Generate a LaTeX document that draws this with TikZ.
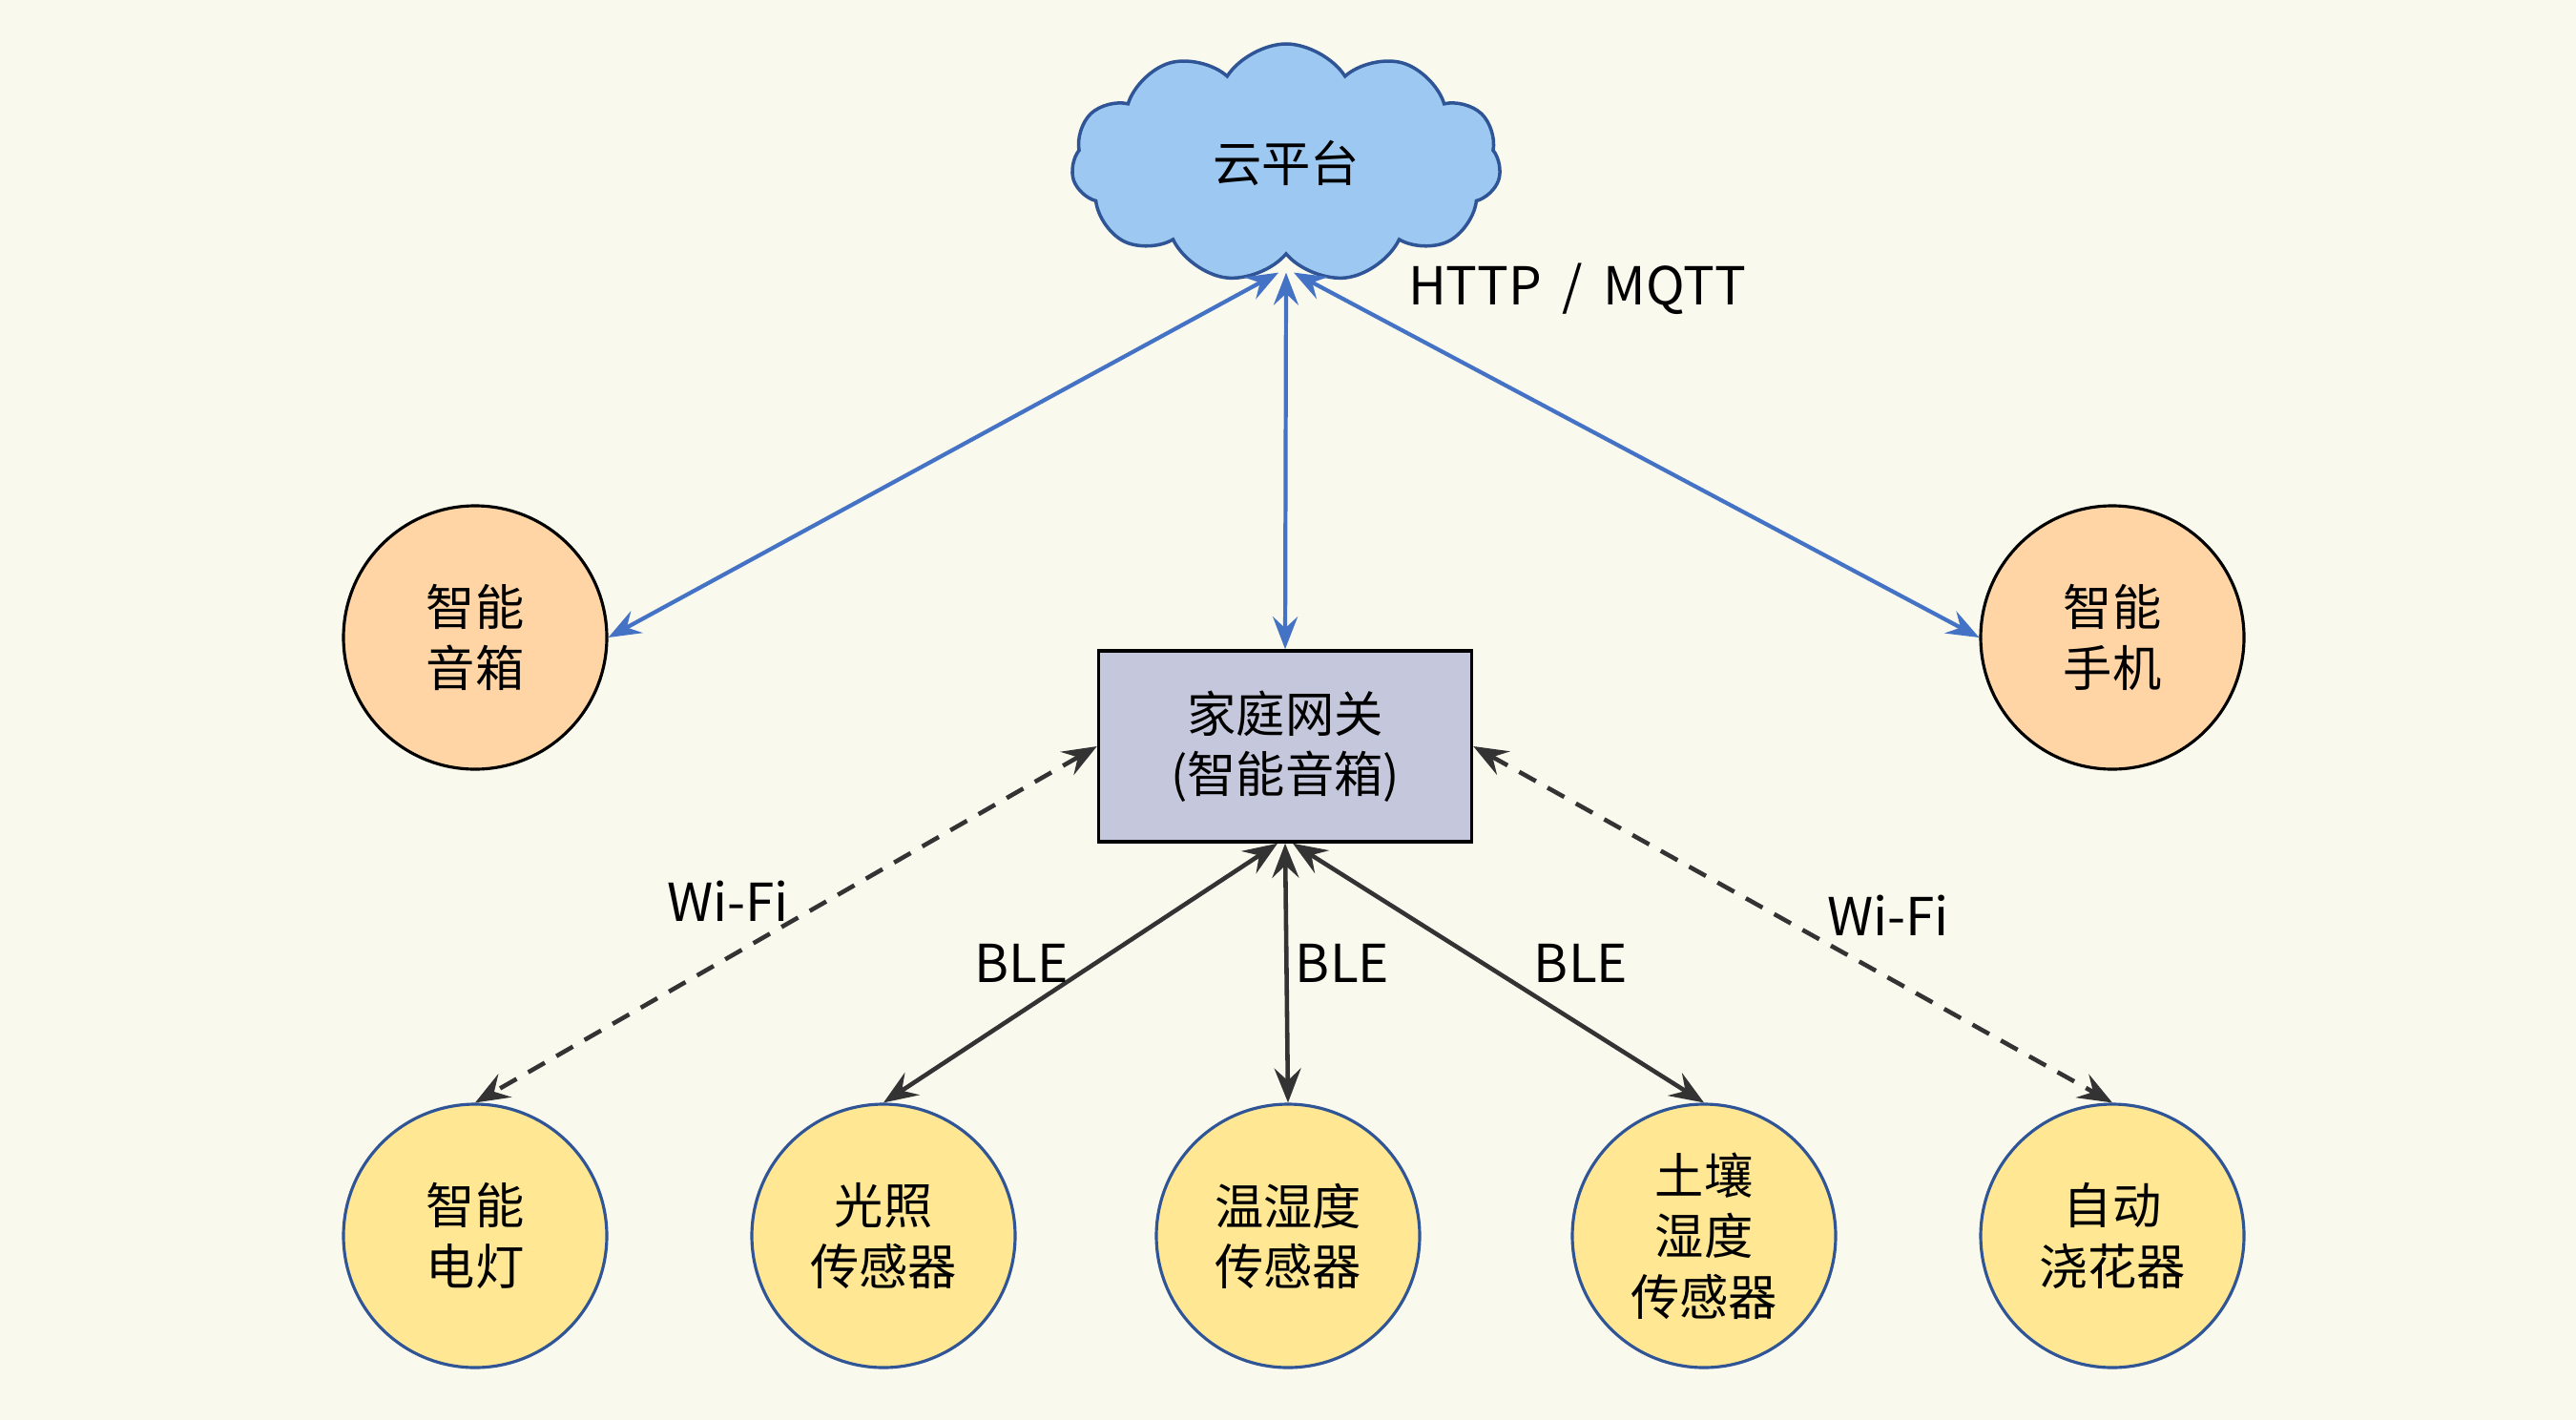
\documentclass[tikz,border=0pt]{standalone}
\usepackage{fontspec}
\setmainfont{Noto Sans CJK SC}
\usepackage{tikz}
\usetikzlibrary{shapes.symbols,arrows.meta}

\definecolor{bgcol}{HTML}{F9F9EE}
\definecolor{cloudfill}{HTML}{9DC8F1}
\definecolor{cloudline}{HTML}{2F5597}
\definecolor{orangefill}{HTML}{FFD5A6}
\definecolor{yellowfill}{HTML}{FFE793}
\definecolor{gatefill}{HTML}{C5C7DC}
\definecolor{bluelink}{HTML}{4472C4}
\definecolor{darklink}{HTML}{333333}

\begin{document}
\begin{tikzpicture}[
  font=\fontsize{14.6}{18}\selectfont,
  phone/.style={circle,draw=black,line width=0.9pt,fill=orangefill,minimum size=2.76cm,align=center},
  sensor/.style={circle,draw=cloudline,line width=0.9pt,fill=yellowfill,minimum size=2.76cm,align=center},
  linklabel/.style={font=\fontsize{15.6}{18}\selectfont},
  bluearrow/.style={draw=bluelink,line width=1.2pt,{Stealth[length=3.4mm,width=2.6mm,inset=1.2mm]}-{Stealth[length=3.4mm,width=2.6mm,inset=1.2mm]}},
  darkarrow/.style={draw=darklink,line width=1.3pt,{Stealth[length=3.6mm,width=2.8mm,inset=1.3mm]}-{Stealth[length=3.6mm,width=2.8mm,inset=1.3mm]}},
  wifiarrow/.style={darkarrow,dash pattern=on 2mm off 1.4mm}
]
\fill[bgcol] (0,0) rectangle (27,14.88);
\useasboundingbox (0,0) rectangle (27,14.88);

% cloud and gateway
\node[cloud,cloud puffs=11,cloud puff arc=115,cloud ignores aspect,draw=cloudline,line width=1pt,fill=cloudfill,
  minimum width=4.5cm,minimum height=2.5cm] (cloud) at (13.48,13.17) {云平台};
\coordinate (cloudfoot) at ([yshift=-0.17cm]cloud.south);
\node[draw=black,line width=1pt,fill=gatefill,minimum width=3.91cm,minimum height=2cm,align=center] (gateway) at (13.47,7.06) {家庭网关\\(智能音箱)};

% devices on the cloud
\node[phone] (speaker) at (4.98,8.20) {智能\\音箱};
\node[phone] (mobile) at (22.14,8.20) {智能\\手机};

% devices on the gateway
\node[sensor] (lamp) at (4.98,1.93) {智能\\电灯};
\node[sensor] (light) at (9.26,1.93) {光照\\传感器};
\node[sensor] (temp) at (13.50,1.93) {温湿度\\传感器};
\node[sensor] (soil) at (17.86,1.93) {土壤\\湿度\\传感器};
\node[sensor] (water) at (22.14,1.93) {自动\\浇花器};

% links
\draw[bluearrow] ([xshift=-0.08cm]cloudfoot) -- (speaker.east);
\draw[bluearrow] (cloudfoot) -- (gateway.north);
\draw[bluearrow] ([xshift=0.08cm]cloudfoot) -- (mobile.west);
\draw[wifiarrow] (gateway.west) -- (lamp.north);
\draw[darkarrow] ([xshift=-0.08cm]gateway.south) -- (light.north);
\draw[darkarrow] (gateway.south) -- (temp.north);
\draw[darkarrow] ([xshift=0.08cm]gateway.south) -- (soil.north);
\draw[wifiarrow] (gateway.east) -- (water.north);

% labels
\node[linklabel] (httplabel) at (16.53,11.85) {HTTP \,/\, MQTT};
\node[linklabel] (wifileft) at (7.63,5.44) {Wi-Fi};
\node[linklabel] (blelight) at (10.71,4.79) {BLE};
\node[linklabel] (bletemp) at (14.07,4.79) {BLE};
\node[linklabel] (blesoil) at (16.57,4.79) {BLE};
\node[linklabel] (wifiright) at (19.79,5.29) {Wi-Fi};
\end{tikzpicture}
\end{document}
